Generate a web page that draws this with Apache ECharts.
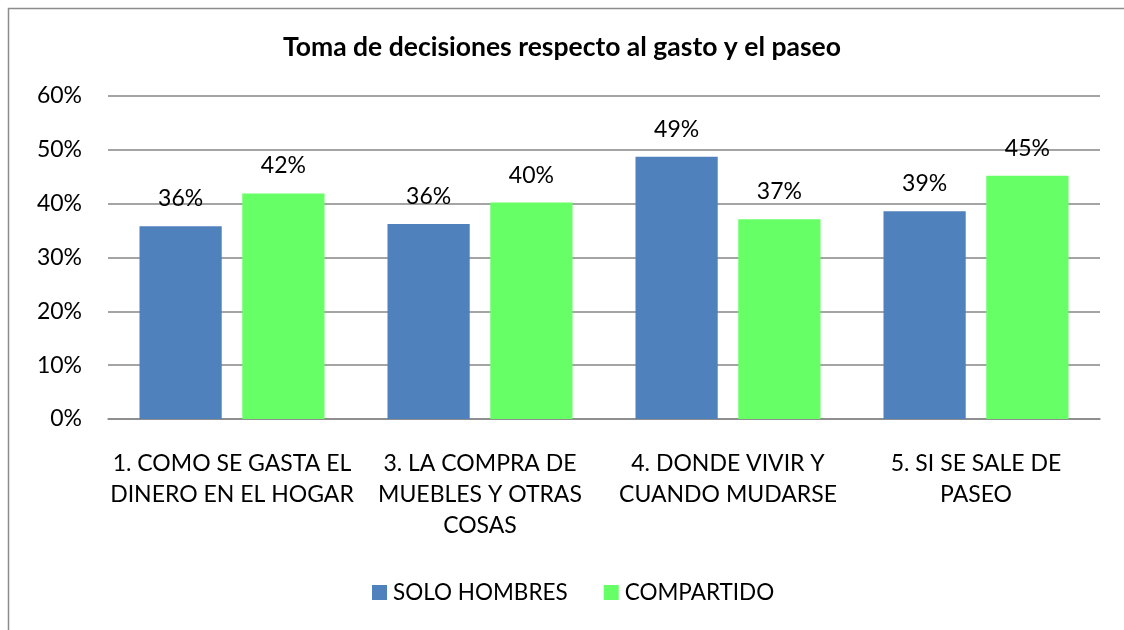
<!DOCTYPE html>
<html>
<head>
<meta charset="utf-8">
<script src="https://cdn.jsdelivr.net/npm/echarts@6/dist/echarts.min.js"></script>
<style>
  html, body { margin: 0; padding: 0; background: #fff; }
  #chart { width: 1124px; height: 630px; }
</style>
</head>
<body>
<div id="chart"></div>
<script>
// datos
const categories = [
    '1. COMO SE GASTA EL\nDINERO EN EL HOGAR',
    '3. LA COMPRA DE\nMUEBLES Y OTRAS\nCOSAS',
    '4. DONDE VIVIR Y\nCUANDO MUDARSE',
    '5. SI SE SALE DE\nPASEO'
]
const soloHombres = [35.8, 36.2, 48.7, 38.6]
const compartido = [41.9, 40.2, 37.1, 45.2]
const seriesNames = ['SOLO HOMBRES', 'COMPARTIDO']
const yTicks = [0, 10, 20, 30, 40, 50, 60]

const FONT = 'Lato'
const chart = echarts.init(document.getElementById('chart'))

const barLabel = {
    show: true,
    position: 'top',
    distance: 16,
    color: '#000',
    fontFamily: FONT,
    fontSize: 23,
    formatter: p => Math.round(p.value) + '%'
}

chart.setOption({
    animation: false,
    textStyle: { fontFamily: FONT },
    graphic: [{
        type: 'rect',
        shape: { x: 8.5, y: 8.5, width: 1200, height: 700 },
        style: { fill: 'none', stroke: '#8c8c8c', lineWidth: 1.5 },
        silent: true
    }],
    title: {
        text: 'Toma de decisiones respecto al gasto y el paseo',
        left: 'center',
        top: 29,
        textStyle: { fontFamily: FONT, fontWeight: 'bold', fontSize: 26.5, color: '#000' }
    },
    legend: {
        bottom: 21,
        left: 367,
        itemWidth: 15,
        itemHeight: 15,
        itemGap: 36,
        icon: 'rect',
        textStyle: { fontFamily: FONT, fontSize: 22.5, color: '#000', padding: [0, 0, 0, 1] },
        data: seriesNames
    },
    grid: { left: 108, right: 24, top: 96, bottom: 211 },
    xAxis: {
        type: 'category',
        data: categories,
        axisTick: { show: false },
        axisLine: { lineStyle: { color: '#868686', width: 1.5 } },
        axisLabel: { color: '#000', fontFamily: FONT, fontSize: 23, lineHeight: 31, margin: 29, interval: 0 }
    },
    yAxis: {
        type: 'value',
        min: yTicks[0],
        max: yTicks[yTicks.length - 1],
        interval: 10,
        axisLine: { show: false },
        axisTick: { show: false },
        splitLine: { lineStyle: { color: '#868686', width: 1.5 } },
        axisLabel: { color: '#000', fontFamily: FONT, fontSize: 23, margin: 26, formatter: '{value}%' }
    },
    series: [
        {
            name: seriesNames[0],
            type: 'bar',
            data: soloHombres,
            itemStyle: { color: '#4f81bd' },
            barGap: '25%',
            barCategoryGap: '25.4%',
            label: barLabel
        },
        {
            name: seriesNames[1],
            type: 'bar',
            data: compartido,
            itemStyle: { color: '#66ff66' },
            label: barLabel
        }
    ]
})
</script>
</body>
</html>
